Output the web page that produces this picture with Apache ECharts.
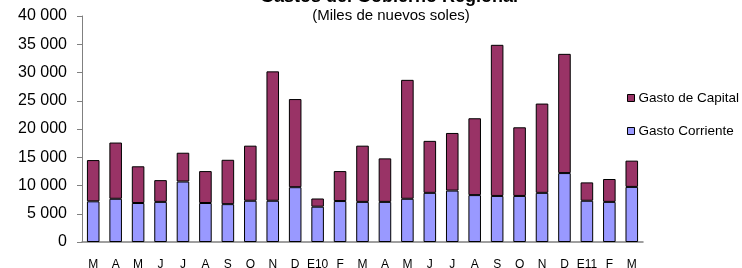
<!DOCTYPE html>
<html>
<head>
<meta charset="utf-8">
<script src="https://cdn.jsdelivr.net/npm/echarts@6/dist/echarts.min.js"></script>
<style>
html,body{margin:0;padding:0;background:#fff;}
#c{width:742px;height:268px;}
</style>
</head>
<body>
<div id="c"></div>
<script>
var categories = ['M','A','M','J','J','A','S','O','N','D','E10','F','M','A','M','J','J','A','S','O','N','D','E11','F','M'];
var gastoCorriente = [7200,7650,6900,7100,10700,6900,6700,7300,7300,9700,6250,7250,7100,7100,7650,8700,9100,8300,8150,8150,8700,12200,7300,7100,9750];
var gastoCapital = [7300,9950,6500,3850,5100,5650,7850,9750,22900,15600,1450,5300,9950,7700,21050,9200,10200,13600,26750,12150,15800,21100,3250,4050,4650];
var yTicks = [0,5000,10000,15000,20000,25000,30000,35000,40000];

var FONT = 'Liberation Sans, Arial, sans-serif';
var chart = echarts.init(document.getElementById('c'), null, {renderer:'canvas'});
chart.setOption({
  animation:false,
  backgroundColor:'#ffffff',
  title:[
    {text:'Gastos del Gobierno Regional', left:389, top:-12, textAlign:'center', padding:0,
     textStyle:{fontFamily:FONT, fontSize:18, fontWeight:'bold', color:'#000'}},
    {text:'(Miles de nuevos soles)', left:391, top:8, textAlign:'center', padding:0,
     textStyle:{fontFamily:FONT, fontSize:15, fontWeight:'normal', color:'#000'}}
  ],
  legend:{
    orient:'vertical', left:627, top:91, padding:0, itemWidth:7, itemHeight:7, itemGap:19,
    icon:'rect',
    itemStyle:{borderColor:'#000', borderWidth:1},
    textStyle:{fontFamily:FONT, fontSize:13.5, color:'#000', padding:[0,0,0,-1]},
    data:['Gasto de Capital','Gasto Corriente']
  },
  grid:{left:82, right:99, top:16, bottom:26, containLabel:false, outerBoundsMode:'none'},
  xAxis:{
    type:'category', data:categories,
    axisLine:{show:true, lineStyle:{color:'#808080', width:1.5}},
    axisTick:{show:false},
    axisLabel:{fontFamily:FONT, fontSize:12, color:'#000', margin:17, interval:0}
  },
  yAxis:{
    type:'value', min:yTicks[0], max:yTicks[yTicks.length-1], interval:5000,
    axisLine:{show:true, lineStyle:{color:'#808080', width:1}},
    axisTick:{show:true, length:5, lineStyle:{color:'#808080'}},
    splitLine:{show:false},
    axisLabel:{fontFamily:FONT, fontSize:16, color:'#000', margin:15,
      formatter:function(v){return String(v).replace(/\B(?=(\d{3})+(?!\d))/g,' ');}}
  },
  series:[
    {name:'Gasto Corriente', type:'bar', stack:'g', data:gastoCorriente, barWidth:'56%',
     itemStyle:{color:'#9999FF', borderColor:'#000', borderWidth:1}},
    {name:'Gasto de Capital', type:'bar', stack:'g', data:gastoCapital, barWidth:'56%',
     itemStyle:{color:'#993366', borderColor:'#000', borderWidth:1}}
  ]
});
</script>
</body>
</html>
